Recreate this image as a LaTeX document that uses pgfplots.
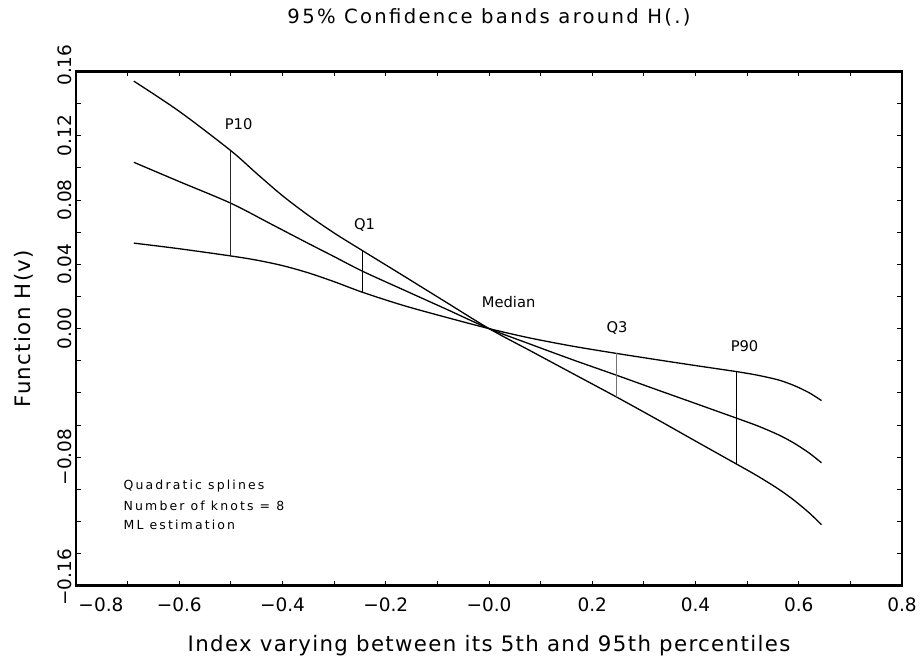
\documentclass[border=0pt]{standalone}
\usepackage{fontspec}
\setmainfont{DejaVu Sans}
\usepackage{pgfplots}
\pgfplotsset{compat=1.18}
\newfontfamily\titlefont[LetterSpace=11.7]{DejaVu Sans}
\newfontfamily\labfont[LetterSpace=6.4]{DejaVu Sans}
\newfontfamily\notefont[LetterSpace=17]{DejaVu Sans}
\begin{document}
\begin{tikzpicture}
\begin{axis}[
  width=826bp, height=514.2bp, scale only axis,
  clip mode=individual,
  xmin=-0.8, xmax=0.8, ymin=-0.16, ymax=0.16,
  xtick={-0.8,-0.6,-0.4,-0.2,0,0.2,0.4,0.6,0.8},
  xticklabels={,−0.6,−0.4,−0.2,−0.0,0.2,0.4,0.6,0.8},
  minor xtick={-0.7,-0.5,-0.3,-0.1,0.1,0.3,0.5,0.7},
  ytick={-0.16,-0.12,-0.08,-0.04,0,0.04,0.08,0.12,0.16},
  yticklabels={,,−0.08,,0.00,0.04,0.08,0.12,},
  minor ytick={-0.14,-0.10,-0.06,-0.02,0.02,0.06,0.10,0.14},
  tick align=inside, major tick length=5bp, minor tick length=5bp,
  tick style={line width=1bp, black},
  axis line style={line width=2.7bp},
  xticklabel style={anchor=base, yshift=-25.6bp, font=\fontsize{18.5bp}{20bp}\selectfont},
  yticklabel style={xshift=-4.3bp, rotate=90, anchor=base, font=\fontsize{18.5bp}{20bp}\selectfont},
  title={95\% Confidence bands around H(.)},
  title style={at={(axis description cs:0.5,1)}, anchor=base, yshift=42.5bp, font=\titlefont\fontsize{19.6bp}{22bp}\selectfont},
  xlabel={Index varying between its 5th and 95th percentiles},
  xlabel style={at={(axis description cs:0.5,0)}, anchor=base, yshift=-65.3bp, font=\labfont\fontsize{21.3bp}{24bp}\selectfont},
  ylabel={Function H(v)},
  ylabel style={at={(axis description cs:-0.0545,0.5)}, anchor=base, font=\labfont\fontsize{21.3bp}{24bp}\selectfont},
]
\coordinate (bl) at (rel axis cs:0,0);
\coordinate (tr) at (rel axis cs:1,1);
% steep band (top-left to bottom-right)
\addplot[black, line width=1.3bp, smooth, tension=0.5] coordinates {
(-0.688,0.1540) (-0.600,0.1352) (-0.500,0.1107) (-0.450,0.0965) (-0.400,0.0827)
(-0.350,0.0705) (-0.300,0.0595) (-0.245,0.0485) (-0.170,0.0337) (-0.085,0.0168)
(0.000,0.0000) (0.080,-0.0138) (0.163,-0.0281) (0.246,-0.0424) (0.330,-0.0573)
(0.400,-0.0700) (0.480,-0.0844) (0.520,-0.0917) (0.560,-0.0997) (0.590,-0.1066)
(0.620,-0.1146) (0.644,-0.1220)};
% estimate
\addplot[black, line width=1.3bp, smooth, tension=0.5] coordinates {
(-0.688,0.1035) (-0.600,0.0915) (-0.500,0.0780) (-0.420,0.0647) (-0.350,0.0530)
(-0.300,0.0448) (-0.245,0.0357) (-0.160,0.0233) (-0.080,0.0117) (0.000,0.0000)
(0.080,-0.0097) (0.163,-0.0195) (0.246,-0.0289) (0.330,-0.0386) (0.400,-0.0466)
(0.480,-0.0558) (0.520,-0.0605) (0.560,-0.0660) (0.590,-0.0711) (0.620,-0.0774)
(0.644,-0.0835)};
% flat band (bottom-left to top-right)
\addplot[black, line width=1.3bp, smooth, tension=0.5] coordinates {
(-0.688,0.0532) (-0.600,0.0497) (-0.500,0.0452) (-0.450,0.0426) (-0.400,0.0392)
(-0.350,0.0347) (-0.300,0.0292) (-0.245,0.0226) (-0.170,0.0148) (-0.100,0.0085)
(0.000,0.0000) (0.080,-0.0059) (0.163,-0.0110) (0.246,-0.0154) (0.330,-0.0196)
(0.400,-0.0230) (0.480,-0.0268) (0.520,-0.0290) (0.560,-0.0319) (0.590,-0.0353)
(0.620,-0.0399) (0.644,-0.0448)};
% quantile markers
\addplot[black!85, line width=1bp] coordinates {(-0.500,0.0452) (-0.500,0.1107)};
\addplot[black, line width=1bp] coordinates {(-0.245,0.0226) (-0.245,0.0485)};
\addplot[black!55, line width=1bp] coordinates {(0.246,-0.0424) (0.246,-0.0154)};
\addplot[black, line width=1bp] coordinates {(0.480,-0.0844) (0.480,-0.0268)};
\node[anchor=base, font=\fontsize{14.7bp}{16bp}\selectfont] at (axis cs:-0.485,0.1236) {P10};
\node[anchor=base, font=\fontsize{14.7bp}{16bp}\selectfont] at (axis cs:-0.241,0.0614) {Q1};
\node[anchor=base, font=\fontsize{14.7bp}{16bp}\selectfont] at (axis cs:0.038,0.0133) {Median};
\node[anchor=base, font=\fontsize{14.7bp}{16bp}\selectfont] at (axis cs:0.248,-0.0025) {Q3};
\node[anchor=base, font=\fontsize{14.7bp}{16bp}\selectfont] at (axis cs:0.495,-0.0144) {P90};
\node[anchor=base west, inner sep=0pt, font=\notefont\fontsize{12.5bp}{14bp}\selectfont] at (axis cs:-0.708,-0.1004) {Quadratic splines};
\node[anchor=base west, inner sep=0pt, font=\notefont\fontsize{12.5bp}{14bp}\selectfont] at (axis cs:-0.708,-0.1129) {Number of knots = 8};
\node[anchor=base west, inner sep=0pt, font=\notefont\fontsize{12.5bp}{14bp}\selectfont] at (axis cs:-0.708,-0.1253) {ML estimation};
\node[anchor=base west, inner sep=0pt, font=\fontsize{18.5bp}{20bp}\selectfont] at ([shift={(2.3bp,-25.6bp)}]rel axis cs:0,0) {−0.8};
\node[xshift=-4.3bp, rotate=90, anchor=base, font=\fontsize{18.5bp}{20bp}\selectfont] at (axis cs:-0.8,0.164) {0.16};
\node[xshift=-4.3bp, rotate=90, anchor=base, font=\fontsize{18.5bp}{20bp}\selectfont] at (axis cs:-0.8,-0.1549) {−0.16};
\end{axis}
\path ([shift={(-76bp,-75.3bp)}]bl) rectangle ([shift={(20bp,71.5bp)}]tr);
\end{tikzpicture}
\end{document}
